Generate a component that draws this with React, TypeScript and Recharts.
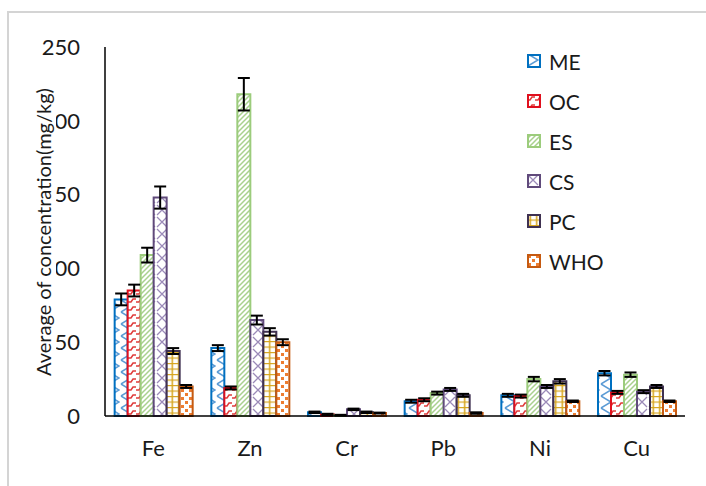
import { BarChart, Bar, XAxis, YAxis, ErrorBar } from 'recharts'

const categories = ['Fe', 'Zn', 'Cr', 'Pb', 'Ni', 'Cu']
const yTicks = [0, 50, 100, 150, 200, 250]

const me = [79, 46, 2.5, 10, 14, 29]
const oc = [85, 19, 1, 11, 13.5, 16]
const es = [109, 218, 0.5, 15.5, 25, 28]
const cs = [148, 65, 4.5, 18, 20, 16.5]
const pc = [44, 57, 2.5, 14, 23.5, 20]
const who = [20, 50, 2, 2, 10, 10]

const meErr = [4, 2, 0.5, 1, 1, 1.5]
const ocErr = [4, 1, 0.5, 1, 1, 1]
const esErr = [5, 11, 0.3, 1, 1.5, 1.5]
const csErr = [7.5, 3, 0.5, 1, 1, 1]
const pcErr = [2, 2.5, 0.5, 1, 1.5, 1]
const whoErr = [1, 2, 0.3, 0.5, 0.5, 0.5]

const seriesNames = ['ME', 'OC', 'ES', 'CS', 'PC', 'WHO']

const data = categories.map((name, i) => ({
  name,
  ME: me[i], ME_err: meErr[i],
  OC: oc[i], OC_err: ocErr[i],
  ES: es[i], ES_err: esErr[i],
  CS: cs[i], CS_err: csErr[i],
  PC: pc[i], PC_err: pcErr[i],
  WHO: who[i], WHO_err: whoErr[i],
}))

// outline colour per series (fill is an svg pattern)
const outline: Record<string, string> = {
  ME: '#0070c0',
  OC: '#e0101e',
  ES: '#9ccc7c',
  CS: '#604a7b',
  PC: '#3f3151',
  WHO: '#c55a11',
}

const font = 'Lato, "Open Sans", sans-serif'

const Patterns = () => (
  <svg width={0} height={0} style={{ position: 'absolute' }}>
    <defs>
      <pattern id="p-ME" width={12} height={12} patternUnits="userSpaceOnUse">
        <rect width={12} height={12} fill="#fff" />
        <path d="M1 0 L11 6 L1 12" stroke="#5b9bd5" strokeWidth={1.5} fill="none" />
      </pattern>
      <pattern id="p-OC" width={8} height={8} patternUnits="userSpaceOnUse">
        <rect width={8} height={8} fill="#fff" />
        <path d="M0 6 H3 L5 3 H8" stroke="#e03a3a" strokeWidth={1.5} fill="none" />
      </pattern>
      <pattern id="p-ES" width={5} height={5} patternUnits="userSpaceOnUse">
        <rect width={5} height={5} fill="#fff" />
        <path d="M-1 1 L1 -1 M0 5 L5 0 M4 6 L6 4" stroke="#a9d18e" strokeWidth={1.5} />
      </pattern>
      <pattern id="p-CS" width={12} height={12} patternUnits="userSpaceOnUse">
        <rect width={12} height={12} fill="#fff" />
        <path d="M1 1 L11 11 M11 1 L1 11" stroke="#9b8ab8" strokeWidth={1.3} />
      </pattern>
      <pattern id="p-PC" width={6.5} height={5.5} patternUnits="userSpaceOnUse">
        <rect width={6.5} height={5.5} fill="#fff" />
        <path d="M0 0.5 H6.5 M3.25 0 V5.5" stroke="#d6a41c" strokeWidth={1.5} />
      </pattern>
      <pattern id="p-WHO" width={8} height={8} patternUnits="userSpaceOnUse">
        <rect width={8} height={8} fill="#fff" />
        <rect x={1} y={1} width={3} height={3} fill="#ed7d31" />
        <rect x={5} y={5} width={3} height={3} fill="#ed7d31" />
      </pattern>
    </defs>
  </svg>
)

// the axis title sits on a white box that hides the first digit of some ticks
const YTitle = () => (
  <div
    style={{
      position: 'absolute',
      left: 43,
      top: 232,
      width: 310,
      height: 26,
      lineHeight: '26px',
      transform: 'translate(-50%, -50%) rotate(-90deg)',
      background: '#fff',
      textAlign: 'center',
      fontFamily: font,
      fontSize: 20,
      color: '#1a1a1a',
      whiteSpace: 'nowrap',
    }}
  >
    Average of concentration(mg/kg)
  </div>
)

const Legend = () => (
  <div style={{ position: 'absolute', left: 527, top: 41, fontFamily: font, fontSize: 21, color: '#1a1a1a' }}>
    {seriesNames.map(s => (
      <div key={s} style={{ display: 'flex', alignItems: 'center', height: 40 }}>
        <svg width={14} height={14} style={{ marginRight: 8 }}>
          <rect x={1} y={1} width={12} height={12} fill={`url(#p-${s})`} stroke={outline[s]} strokeWidth={2} />
        </svg>
        <span>{s}</span>
      </div>
    ))}
  </div>
)

export default function App() {
  return (
    <div style={{ position: 'absolute', left: 0, top: 0, width: 706, height: 486, background: '#fff', overflow: 'hidden' }}>
      <div
        style={{
          position: 'absolute', left: 7, top: 11, right: 0, bottom: 0,
          borderLeft: '2px solid #d4d4d4', borderTop: '2px solid #d4d4d4',
        }}
      />
      <Patterns />
      <div style={{ position: 'absolute', left: 0, top: 0 }}>
        <BarChart
          width={706}
          height={486}
          data={data}
          margin={{ top: 47, right: 21, bottom: 30, left: 0 }}
          barCategoryGap="10%"
          barGap={0}
        >
          <XAxis
            dataKey="name"
            axisLine={{ stroke: '#000', strokeWidth: 1.5 }}
            tickLine={false}
            tickSize={0}
            tickMargin={24}
            height={40}
            tick={{ fill: '#1a1a1a', fontSize: 22, fontFamily: font }}
          />
          <YAxis
            domain={[0, 250]}
            ticks={yTicks}
            width={105}
            axisLine={{ stroke: '#000', strokeWidth: 1.5 }}
            tickLine={false}
            tickSize={0}
            tickMargin={25}
            tick={{ fill: '#1a1a1a', fontSize: 22, fontFamily: font }}
          />
          {seriesNames.map(s => (
            <Bar
              key={s}
              dataKey={s}
              fill={`url(#p-${s})`}
              stroke={outline[s]}
              strokeWidth={2}
              isAnimationActive={false}
            >
              <ErrorBar dataKey={`${s}_err`} width={6} stroke="#000" strokeWidth={2} />
            </Bar>
          ))}
        </BarChart>
      </div>
      <YTitle />
      <Legend />
    </div>
  )
}
